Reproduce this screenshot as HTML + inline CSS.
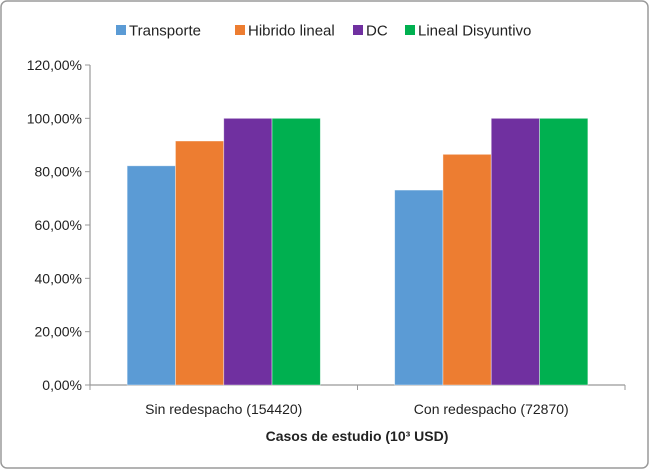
<!DOCTYPE html>
<html><head><meta charset="utf-8"><style>
body{margin:0;background:#fff;}
svg{display:block;font-family:"Liberation Sans",sans-serif;}
</style></head><body>
<svg width="650" height="470" xmlns="http://www.w3.org/2000/svg">
<rect x="1" y="1" width="647" height="467" rx="6" fill="#fff" stroke="#9a9a9a" stroke-width="1.5"/>
<g id="legend"></g>
<g id="axes"></g>
<g id="bars"></g>
<text x="357" y="441" text-anchor="middle" font-size="14" font-weight="bold" fill="#222">Casos de estudio (10³ USD)</text>
</svg>
<script>
const categories=["Sin redespacho (154420)","Con redespacho (72870)"];
const seriesNames=["Transporte","Hibrido lineal","DC","Lineal Disyuntivo"];
const transporte=[82.2,73.1];
const hibrido=[91.5,86.5];
const dc=[100,100];
const disyuntivo=[100,100];
const yTicks=[0,20,40,60,80,100,120];
const colors=["#5b9bd5","#ed7d31","#7030a0","#00b050"];
const series=[transporte,hibrido,dc,disyuntivo];
const NS="http://www.w3.org/2000/svg";
const x0=90,x1=625,y0=385,yTop=65;
const yScale=v=>y0-(v/120)*(y0-yTop);
const catW=(x1-x0)/categories.length;
const barW=48.3;
function mk(tag,attrs,parent){const e=document.createElementNS(NS,tag);for(const k in attrs)e.setAttribute(k,attrs[k]);parent.appendChild(e);return e;}
const axes=document.getElementById('axes'),bars=document.getElementById('bars'),legend=document.getElementById('legend');
let ax=mk('line',{x1:x0,x2:x0,y1:yTop,y2:y0,stroke:'#999','stroke-width':1.2},axes);


let xa=mk('line',{x1:x0,x2:x1,y1:y0,y2:y0,stroke:'#999','stroke-width':1.2},axes);


yTicks.forEach(t=>{
 const y=yScale(t);
 mk('line',{x1:x0-5,x2:x0,y1:y,y2:y,stroke:'#999'},axes);
 const tx=mk('text',{x:x0-8,y:y+5,'text-anchor':'end','font-size':14,fill:'#222'},axes);
 tx.textContent=t.toFixed(2).replace('.',',')+'%';
 
 
});
for(let i=0;i<=categories.length;i++){const x=x0+i*catW;mk('line',{x1:x,x2:x,y1:y0,y2:y0+5,stroke:'#999'},axes);}
categories.forEach((c,i)=>{
 const cx=x0+catW*(i+0.5);
 const tx=mk('text',{x:cx,y:414,'text-anchor':'middle','font-size':14,fill:'#222'},axes);
 tx.textContent=c;
 
 
 series.forEach((s,j)=>{
  const bx=cx-2*barW+j*barW;
  const r=mk('rect',{x:bx,y:yScale(s[i]),width:barW,height:y0-yScale(s[i]),fill:colors[j],stroke:'rgba(255,255,255,0.5)','stroke-width':0.8},bars);
  
  
 });
});
const legX=[116,235,353,405];
seriesNames.forEach((n,j)=>{
 const g=mk('g',{},legend);
 
 
 mk('rect',{x:legX[j],y:25,width:10,height:10,fill:colors[j]},g);
 const t=mk('text',{x:legX[j]+13,y:35.5,'font-size':15,fill:'#222'},g);
 t.textContent=n;
});
</script>
</body></html>
